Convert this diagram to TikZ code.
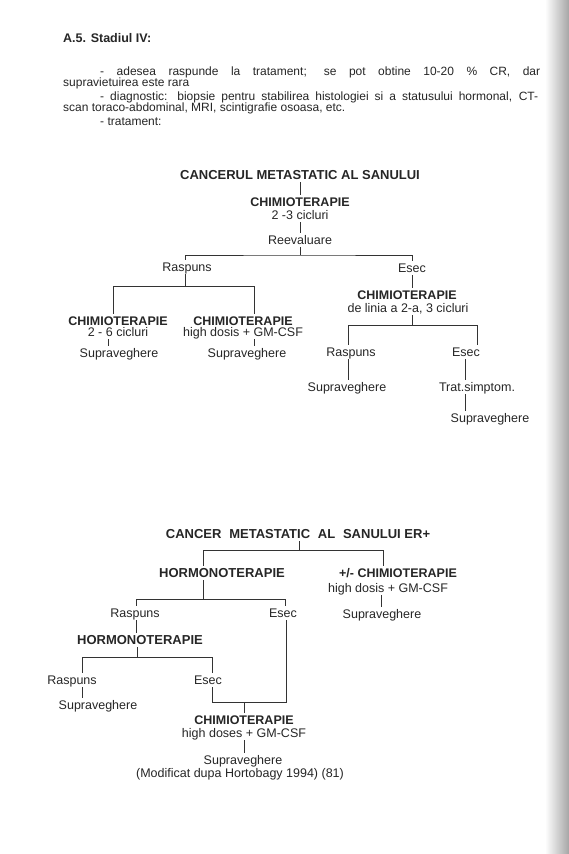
\documentclass[tikz,border=0pt]{standalone}
\usepackage{fontspec}
\setmainfont{Liberation Sans}

\begin{document}
\begin{tikzpicture}[x=1pt, y=-1pt,
    txt/.style={inner xsep=0pt, inner ysep=2.5pt, text height=9pt, text depth=0pt, text=black!85, font=\fontsize{12.5}{14}\selectfont},
    hd/.style={txt, font=\fontsize{12.5}{14}\selectfont\bfseries},
    ttl/.style={txt, font=\fontsize{13}{15}\selectfont\bfseries},
    para/.style={anchor=base west, inner sep=0pt, text=black!85, font=\fontsize{12}{13}\selectfont},
    ln/.style={draw=black!80, line width=0.8pt}]
    \useasboundingbox (0,0) rectangle (569,854);
    \fill[white] (0,0) rectangle (569,854);
    \shade[left color=white, right color=black!35] (545,0) rectangle (569,854);
    % header text
    \node[para, font=\fontsize{12.5}{14}\selectfont\bfseries] (hA) at (63,42.5) {A.5. Stadiul IV:};
    \node[para] (p1) at (100,75) {\makebox[440pt][s]{- adesea raspunde la tratament; se pot obtine 10-20 \% CR, dar}};
    \node[para] (p2) at (63,86) {supravietuirea este rara};
    \node[para] (p3) at (100,100) {\makebox[438pt][s]{- diagnostic: biopsie pentru stabilirea histologiei si a statusului hormonal, CT-}};
    \node[para] (p4) at (63,111) {scan toraco-abdominal, MRI, scintigrafie osoasa, etc.};
    \node[para] (p5) at (100,125) {- tratament:};

    % first tree: top
    \node[ttl] (t1) at (300,175) {CANCERUL METASTATIC AL SANULUI};
    \node[hd] (c1) at (300,202) {CHIMIOTERAPIE};
    \node[txt] (c1b) at (300,215) {2 -3 cicluri};
    \node[txt] (rev) at (300,240) {Reevaluare};
    \node[txt] (r1) at (187,267) {Raspuns};
    \node[txt] (e1) at (412,268) {Esec};
    \coordinate (k1) at (300,255);
    \draw[ln] (t1) -- (c1);
    \draw[ln] (c1b) -- (rev);
    \draw[ln] (rev) -- (k1);
    \draw[ln] (r1.north -| 185,0) |- (k1) -| (e1.north);
    % first tree: left branch
    \node[hd] (c2) at (118,321) {CHIMIOTERAPIE};
    \node[txt] (c2b) at (118,332) {2 - 6 cicluri};
    \node[txt] (s2) at (119,353) {Supraveghere};
    \node[hd] (c3) at (243,321) {CHIMIOTERAPIE};
    \node[txt] (c3b) at (243,332) {high dosis + GM-CSF};
    \node[txt] (s3) at (247,353) {Supraveghere};
    \coordinate (k2) at (185,286);
    \coordinate (k2a) at (113,286);
    \coordinate (k2b) at (254,286);
    \draw[ln] (r1.south -| k2) -- (k2);
    \draw[ln] (k2a |- c2.north) -- (k2a) -- (k2b) -- (k2b |- c3.north);
    \draw[ln] ([xshift=-10pt]c2b.south) -- ([xshift=-10pt]c2b.south |- s2.north);
    \draw[ln] (c3b.south -| k2b) -- (s3.north -| k2b);
    % first tree: right branch
    \node[hd] (c4) at (407,295) {CHIMIOTERAPIE};
    \node[txt] (c4b) at (408,308) {de linia a 2-a, 3 cicluri};
    \node[txt] (r4) at (351,352) {Raspuns};
    \node[txt] (e4) at (466,352) {Esec};
    \node[txt] (s4) at (347,387) {Supraveghere};
    \node[txt] (tr) at (477,387) {Trat.simptom.};
    \node[txt] (s5) at (490,418) {Supraveghere};
    \coordinate (k3) at (412,325);
    \coordinate (k3a) at (348,325);
    \coordinate (k3b) at (477,325);
    \draw[ln] (e1) -- (e1 |- c4.north);
    \draw[ln] (c4b.south -| k3) -- (k3);
    \draw[ln] (r4.north -| k3a) -- (k3a) -- (k3b) -- (k3b |- e4.north);
    \draw[ln] (r4.south -| k3a) -- (s4.north -| k3a);
    \draw[ln] (e4.south -| 465,0) -- (tr.north -| 465,0);
    \draw[ln] (tr.south -| 465,0) -- (s5.north -| 465,0);

    % second tree: top
    \node[ttl] (t2) at (298,534) {CANCER\hspace{0.6em}METASTATIC\hspace{0.6em}AL\hspace{0.6em}SANULUI ER+};
    \node[ttl] (h1) at (222,573) {HORMONOTERAPIE};
    \node[hd] (ch) at (398,573) {+/- CHIMIOTERAPIE};
    \node[txt] (chb) at (388,588) {high dosis + GM-CSF};
    \node[txt] (sch) at (382,614) {Supraveghere};
    \coordinate (k4) at (299,550);
    \coordinate (k4a) at (203,550);
    \coordinate (k4b) at (383,550);
    \draw[ln] (t2.south -| k4) -- (k4);
    \draw[ln] (h1.north -| k4a) -- (k4a) -- (k4b) -- (k4b |- ch.north);
    \draw[ln] (chb.south -| 381,0) -- (sch.north -| 381,0);
    % second tree: hormonal branch
    \node[txt] (r5) at (135,613) {Raspuns};
    \node[txt] (e5) at (283,613) {Esec};
    \node[ttl] (h2) at (140,640) {HORMONOTERAPIE};
    \coordinate (k5) at (203,599);
    \coordinate (k5a) at (136,599);
    \coordinate (k5b) at (285,599);
    \draw[ln] (h1.south -| k5) -- (k5);
    \draw[ln] (r5.north -| k5a) -- (k5a) -- (k5b) -- (k5b |- e5.north);
    \draw[ln] (r5.south -| k5a) -- (h2.north -| k5a);
    \node[txt] (r6) at (72,680) {Raspuns};
    \node[txt] (e6) at (208,680) {Esec};
    \node[txt] (s6) at (98,705) {Supraveghere};
    \coordinate (k6) at (137,657);
    \coordinate (k6a) at (82,657);
    \coordinate (k6b) at (212,657);
    \draw[ln] (h2.south -| k6) -- (k6);
    \draw[ln] (r6.north -| k6a) -- (k6a) -- (k6b) -- (k6b |- e6.north);
    \draw[ln] (r6.south -| k6a) -- (s6.north -| k6a);
    % second tree: bottom
    \node[hd] (c7) at (244,720) {CHIMIOTERAPIE};
    \node[txt] (c7b) at (244,733) {high doses + GM-CSF};
    \node[txt] (s7) at (243,760) {Supraveghere};
    \node[txt] (src) at (240,773) {(Modificat dupa Hortobagy 1994) (81)};
    \coordinate (k7) at (244,702);
    \coordinate (k7a) at (212,702);
    \coordinate (k7b) at (286,702);
    \draw[ln] (e6.south -| k7a) -- (k7a) -- (k7b) -- (e5.south -| k7b);
    \draw[ln] (k7) -- (c7);
    \draw[ln] (c7b.south -| k7) -- (s7.north -| k7);
\end{tikzpicture}
\end{document}
